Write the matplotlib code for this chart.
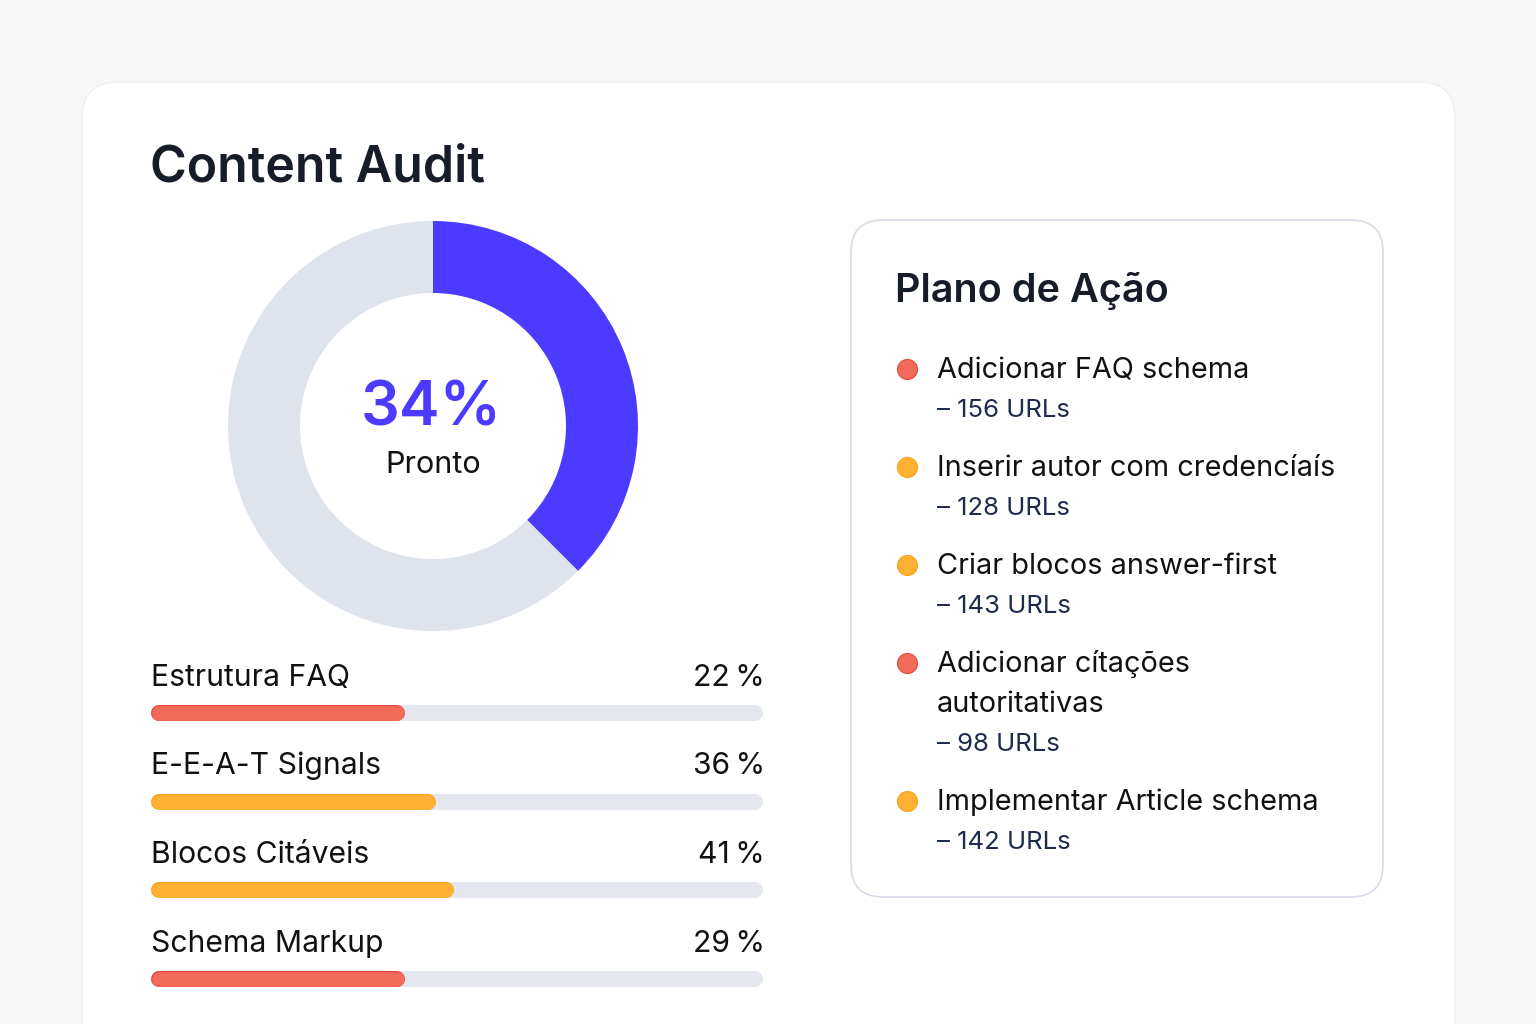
import numpy as np
import matplotlib.pyplot as plt
from matplotlib.patches import FancyBboxPatch
import matplotlib.patheffects as pe

plt.rcParams['font.family'] = ['Inter', 'DejaVu Sans']

# donut
ready_label = 34
ready_arc = 37.5  # share of the ring painted blue, as seen in the picture

# progress bars
bar_names = ['Estrutura FAQ', 'E-E-A-T Signals', 'Blocos Citáveis', 'Schema Markup']
bar_pct = [22, 36, 41, 29]
bar_fill = [41.5, 46.6, 49.5, 41.5]  # painted length of each bar, % of track
bar_level = ['red', 'yellow', 'yellow', 'red']

# action plan
actions = ['Adicionar FAQ schema', 'Inserir autor com credencíaís', 'Criar blocos answer-first',
           'Adicionar cítações\nautoritativas', 'Implementar Article schema']
action_urls = [156, 128, 143, 98, 142]
action_level = ['red', 'yellow', 'yellow', 'red', 'yellow']

colors = {'red': '#f26a5a', 'yellow': '#ffb133'}
edges = {'red': '#e8483a', 'yellow': '#f7a21c'}
blue = '#4b3aff'
track = '#e4e7ee'
ink = '#161c28'
navy = '#1f2b4d'

W, H = 1536, 1024
fig = plt.figure(figsize=(W / 100, H / 100), dpi=100, facecolor='#f7f7f8')

# background axes in pixel coordinates
bg = fig.add_axes([0, 0, 1, 1])
bg.set_xlim(0, W)
bg.set_ylim(H, 0)
bg.axis('off')

card = FancyBboxPatch((82, 82), 1373, 1000, boxstyle='round,pad=0,rounding_size=36',
                      fc='white', ec='#efeff1', lw=1)
bg.add_patch(card)
panel = FancyBboxPatch((851, 220), 532, 677, boxstyle='round,pad=0,rounding_size=32',
                       fc='white', ec='#d6dce8', lw=1.2)
bg.add_patch(panel)

bg.text(150, 181, 'Content Audit', fontsize=36, fontweight='semibold', color=ink, va='baseline')

# donut
cx, cy, r_out, r_in = 433, 426, 205, 133
ax_d = fig.add_axes([(cx - r_out) / W, 1 - (cy + r_out) / H, 2 * r_out / W, 2 * r_out / H])
ax_d.pie([ready_arc, 100 - ready_arc], colors=[blue, '#dfe3ec'], startangle=90,
         counterclock=False, radius=1, wedgeprops=dict(width=(r_out - r_in) / r_out, lw=0))
ax_d.set_xlim(-1, 1)
ax_d.set_ylim(-1, 1)
ax_d.axis('off')
bg.text(cx - 2, 425, f'{ready_label}%', fontsize=44, fontweight='semibold', color=blue,
        ha='center', va='baseline')
bg.text(cx, 473, 'Pronto', fontsize=22, color='#111111', ha='center', va='baseline')

# progress bars
x0, x1 = 151, 763
bar_h = 16
label_y = [686, 774, 863, 952]
bar_y = [713, 802, 890, 979]
cap = bar_h / 2 / (x1 - x0) * 100
lw_pt = bar_h * 0.72
for name, pct, fill, lvl, ly, by in zip(bar_names, bar_pct, bar_fill, bar_level, label_y, bar_y):
    ax_b = fig.add_axes([x0 / W, 1 - (by + 15) / H, (x1 - x0) / W, 30 / H])
    ax_b.set_xlim(0, 100)
    ax_b.set_ylim(-1, 1)
    ax_b.axis('off')
    ax_b.plot([cap, 100 - cap], [0, 0], color=track, lw=lw_pt, solid_capstyle='round')
    ax_b.plot([cap, fill - cap], [0, 0], color=colors[lvl], lw=lw_pt - 1, solid_capstyle='round',
              path_effects=[pe.Stroke(linewidth=lw_pt, foreground=edges[lvl]), pe.Normal()])
    bg.text(x0, ly, name, fontsize=21.7, color='#111111', va='baseline')
    bg.text(x1 + 2, ly, f'{pct}\u2009%', fontsize=21.7, color='#111111', ha='right', va='baseline')

# action plan
bg.text(895, 302, 'Plano de Ação', fontsize=28.5, fontweight='semibold', color=ink, va='baseline')
top = 378
line_gap = 40
for act, n, lvl in zip(actions, action_urls, action_level):
    lines = act.split('\n')
    bg.scatter([907], [top - 9], s=(20 * 0.72) ** 2, color=colors[lvl], edgecolors=edges[lvl],
               linewidths=0.8, zorder=3)
    for k, ln in enumerate(lines):
        bg.text(937, top + k * line_gap, ln, fontsize=20.8, color='#111111', va='baseline')
    sub_y = top + (len(lines) - 1) * line_gap + 39
    bg.text(937, sub_y, f'– {n} URLs', fontsize=18.5, color=navy, va='baseline')
    top = sub_y + 59

fig.savefig('out.png', dpi=100, facecolor=fig.get_facecolor())
